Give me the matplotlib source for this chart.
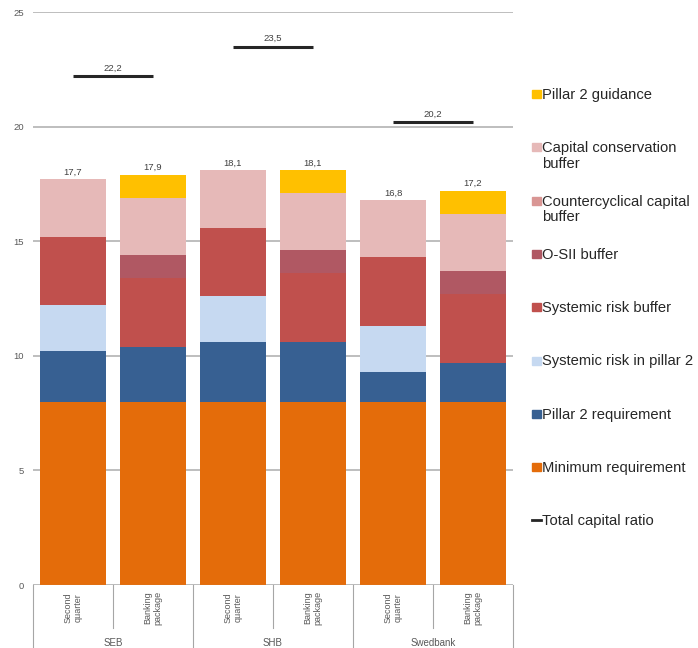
import matplotlib
matplotlib.use("Agg")
import matplotlib.pyplot as plt
import matplotlib.transforms as mtransforms
from matplotlib.patches import Rectangle
import numpy as np

plt.rcParams['font.family'] = ['Liberation Sans', 'DejaVu Sans']

banks = ["SEB", "SHB", "Swedbank"]
periods = ["Second\nquarter", "Banking\npackage"]

# stacked components, one value per bar (SEB q2, SEB bp, SHB q2, SHB bp, Swedbank q2, Swedbank bp)
minimum_req = [8.0, 8.0, 8.0, 8.0, 8.0, 8.0]
pillar2_req = [2.2, 2.4, 2.6, 2.6, 1.3, 1.7]
sys_risk_p2 = [2.0, 0.0, 2.0, 0.0, 2.0, 0.0]
sys_risk_buf = [3.0, 3.0, 3.0, 3.0, 3.0, 3.0]
osii_buf = [0.0, 1.0, 0.0, 1.0, 0.0, 1.0]
countercyc_buf = [0.0, 0.0, 0.0, 0.0, 0.0, 0.0]
conservation_buf = [2.5, 2.5, 2.5, 2.5, 2.5, 2.5]
pillar2_guid = [0.0, 1.0, 0.0, 1.0, 0.0, 1.0]

total_capital = [22.2, 23.5, 20.2]

series = [
    ("Minimum requirement", minimum_req, "#E46C0A"),
    ("Pillar 2 requirement", pillar2_req, "#376092"),
    ("Systemic risk in pillar 2", sys_risk_p2, "#C6D9F1"),
    ("Systemic risk buffer", sys_risk_buf, "#C0504D"),
    ("O-SII buffer", osii_buf, "#B05863"),
    ("Countercyclical capital\nbuffer", countercyc_buf, "#D99694"),
    ("Capital conservation\nbuffer", conservation_buf, "#E6B9B8"),
    ("Pillar 2 guidance", pillar2_guid, "#FFC000"),
]

fig = plt.figure(figsize=(6.98, 6.48), dpi=100)
ax = fig.add_axes([0.047, 0.0972, 0.688, 0.884])

x = np.arange(len(minimum_req))
bottom = np.zeros(len(x))
for name, vals, col in series:
    vals = np.array(vals)
    ax.bar(x, vals, bottom=bottom, width=0.83, color=col, zorder=2)
    bottom += vals

# bar totals
for xi, tot in zip(x, bottom):
    ax.text(xi, tot + 0.12, f"{tot:.1f}".replace(".", ","), ha="center", va="bottom",
            fontsize=6.8, color="#404040")

# total capital ratio, one line per bank across its two bars
for i, val in enumerate(total_capital):
    ax.plot([2 * i, 2 * i + 1], [val, val], color="#262626", lw=2.2, zorder=3,
            solid_capstyle="butt")
    ax.text(2 * i + 0.5, val + 0.15, f"{val:.1f}".replace(".", ","), ha="center",
            va="bottom", fontsize=6.8, color="#404040")

ax.set_xlim(-0.5, 5.5)
ax.set_ylim(0, 25)
ax.set_yticks([0, 5, 10, 15, 20, 25])
ax.set_yticklabels(["0", "5", "10", "15", "20", "25"], fontsize=6.8, color="#595959")
ax.tick_params(axis="y", length=0, pad=6.5)
ax.set_xticks([])
ax.grid(axis="y", color="#B3B3B3", lw=1.2, zorder=0)
for s in ax.spines.values():
    s.set_visible(False)
ax.axhline(0, color="#A6A6A6", lw=0.8, zorder=3)

# two-level category axis
trans = mtransforms.blended_transform_factory(ax.transData, ax.transAxes)
for i in range(len(x)):
    ax.text(i, -0.04, periods[i % 2], rotation=90, ha="center", va="center",
            transform=trans, fontsize=6.5, color="#595959", linespacing=1.1)
for k in range(len(x) + 1):
    edge = k - 0.5
    low = -0.112 if k % 2 == 0 else -0.075
    ax.plot([edge, edge], [0, low], transform=trans, color="#A6A6A6", lw=0.8,
            clip_on=False)
for j, b in enumerate(banks):
    ax.text(2 * j + 0.5, -0.101, b, ha="center", va="center", transform=trans,
            fontsize=7, color="#595959")

# legend entries, top to bottom; swatch sits on the first text line
legend_items = [(n, c) for n, _, c in series[::-1]]
y0 = 1 - 94 / 648
step = 53.3 / 648
fs = 10.6
for k, (name, col) in enumerate(legend_items):
    yc = y0 - k * step
    fig.add_artist(Rectangle((532 / 698, yc - 4 / 648), 9 / 698, 8 / 648,
                             transform=fig.transFigure, color=col))
    fig.text(542 / 698, yc + 6 / 648, name, ha="left", va="top", fontsize=fs,
             color="#262626", linespacing=1.15)
yc = y0 - len(legend_items) * step
fig.add_artist(plt.Line2D([532 / 698, 541 / 698], [yc, yc], transform=fig.transFigure,
                          color="#262626", lw=2))
fig.text(542 / 698, yc + 6 / 648, "Total capital ratio", ha="left", va="top",
         fontsize=fs, color="#262626")

fig.savefig("out.png", dpi=100)
